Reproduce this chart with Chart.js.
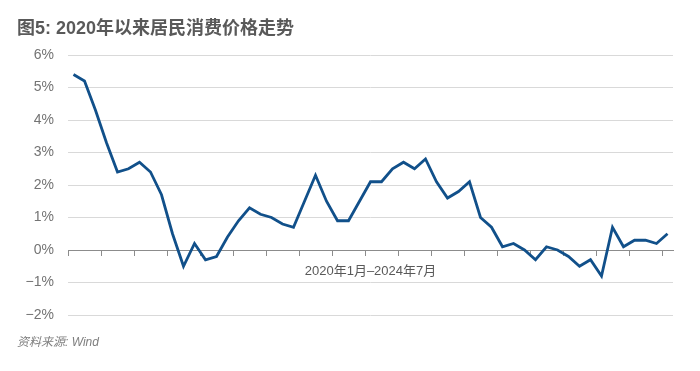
<!DOCTYPE html>
<html>
<head>
<meta charset="utf-8">
<script src="https://cdn.jsdelivr.net/npm/chart.js@4"></script>
<style>
  body { margin: 0; background: #fff; }
  #wrap { position: relative; width: 700px; height: 371px; }
  #titulo {
    position: absolute; left: 17px; top: 13px;
    font: bold 18px "Liberation Sans", "Noto Sans CJK SC", sans-serif;
    color: #595959; white-space: nowrap;
  }
  #fuente {
    position: absolute; left: 17px; top: 332px;
    font: italic 12px "Liberation Sans", "Noto Sans CJK SC", sans-serif;
    color: #7f7f7f; white-space: nowrap;
  }
</style>
</head>
<body>
<div id="wrap">
  <canvas id="cpiChart" width="700" height="371"></canvas>
  <div id="titulo">图5: 2020年以来居民消费价格走势</div>
  <div id="fuente">资料来源: Wind</div>
</div>
<script>
// meses ene 2020 - jul 2024
const meses = [];
for (let a = 2020; a <= 2024; a++) {
    for (let m = 1; m <= 12; m++) {
        if (a === 2024 && m > 7) break;
        meses.push(a + '-' + m);
    }
}

// CPI interanual (%)
const cpi = [
    5.4, 5.2, 4.3, 3.3, 2.4, 2.5, 2.7, 2.4, 1.7, 0.5, -0.5, 0.2,
    -0.3, -0.2, 0.4, 0.9, 1.3, 1.1, 1.0, 0.8, 0.7, 1.5, 2.3, 1.5,
    0.9, 0.9, 1.5, 2.1, 2.1, 2.5, 2.7, 2.5, 2.8, 2.1, 1.6, 1.8,
    2.1, 1.0, 0.7, 0.1, 0.2, 0.0, -0.3, 0.1, 0.0, -0.2, -0.5, -0.3,
    -0.8, 0.7, 0.1, 0.3, 0.3, 0.2, 0.5
];

const tituloEjeX = '2020年1月–2024年7月';
const yMin = -2, yMax = 6;

const colorLinea = '#11508a';
const gris = '#595959';

const ctx = document.getElementById('cpiChart').getContext('2d');
new Chart(ctx, {
    type: 'line',
    data: {
        labels: meses,
        datasets: [{
            data: cpi,
            borderColor: colorLinea,
            borderWidth: 2.8,
            pointRadius: 0,
            tension: 0,
            fill: false
        }]
    },
    options: {
        responsive: false,
        animation: false,
        layout: { padding: { top: 55, bottom: 56, left: 20, right: 27 } },
        plugins: { legend: { display: false }, tooltip: { enabled: false } },
        scales: {
            x: {
                position: { y: 0 },
                offset: true,
                grid: {
                    offset: true,
                    drawOnChartArea: false,
                    drawTicks: true,
                    tickLength: 5,
                    color: c => (c.index % 3 === 0 ? '#8c8c8c' : 'rgba(0,0,0,0)')
                },
                border: { display: true, color: '#8c8c8c', width: 1 },
                ticks: { display: false, autoSkip: false },
                title: {
                    display: true,
                    text: tituloEjeX,
                    color: gris,
                    font: { family: '"Liberation Sans", "Noto Sans CJK SC"', size: 13 },
                    padding: { top: 9 }
                }
            },
            y: {
                min: yMin,
                max: yMax,
                afterFit: s => { s.width = 48; },
                ticks: {
                    stepSize: 1,
                    padding: 14,
                    color: '#737373',
                    font: { family: '"Liberation Sans"', size: 14 },
                    callback: v => (v < 0 ? '−' + Math.abs(v) : v) + '%'
                },
                grid: { color: '#d9d9d9', drawTicks: false },
                border: { display: false }
            }
        }
    }
});
</script>
</body>
</html>
